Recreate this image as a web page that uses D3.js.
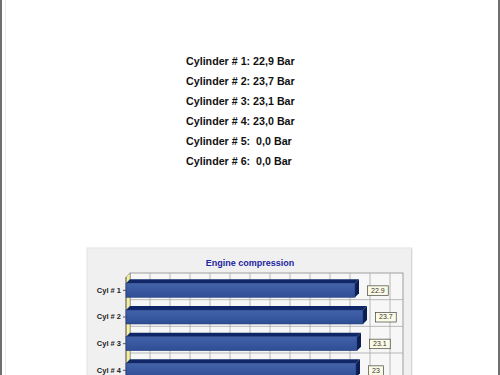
<!DOCTYPE html>
<html>
<head>
<meta charset="utf-8">
<script src="https://cdn.jsdelivr.net/npm/d3@7"></script>
<style>
  html, body { margin: 0; padding: 0; background: #fff; }
  svg { display: block; }
</style>
</head>
<body>
<svg id="page" width="500" height="375"></svg>
<script>
const cylinders = ["Cyl # 1", "Cyl # 2", "Cyl # 3", "Cyl # 4", "Cyl # 5", "Cyl # 6"];
const pressures = [22.9, 23.7, 23.1, 23.0, 0.0, 0.0];
const gridTicks = [0, 2, 4, 6, 8, 10, 12, 14, 16, 18, 20, 22, 24, 26];
const chartTitle = "Engine compression";

const svg = d3.select("#page");

// page frame
svg.append("rect").attr("x", 0).attr("y", 0).attr("width", 2).attr("height", 375).attr("fill", "#6f6f6f");
svg.append("rect").attr("x", 5).attr("y", 0).attr("width", 1).attr("height", 375).attr("fill", "#f0f0f0");
svg.append("rect").attr("x", 498).attr("y", 0).attr("width", 2).attr("height", 375).attr("fill", "#6f6f6f");

// summary text
const fmt = v => d3.format(".1f")(v).replace(".", ",").padStart(4, " ");
svg.append("g")
  .selectAll("text")
  .data(pressures)
  .join("text")
  .attr("x", 186)
  .attr("y", (d, i) => 65 + i * 20)
  .attr("font-family", "Liberation Sans, Arial, sans-serif")
  .attr("font-weight", "bold")
  .attr("font-size", 10.7)
  .attr("fill", "#111")
  .style("white-space", "pre")
  .text((d, i) => `Cylinder # ${i + 1}: ${fmt(d)} Bar`);

// chart panel
const panel = svg.append("g");
panel.append("rect")
  .attr("x", 87).attr("y", 248).attr("width", 325).attr("height", 200)
  .attr("fill", "#f0f0f0").attr("stroke", "#e4e4e4");
panel.append("line")
  .attr("x1", 411.5).attr("x2", 411.5).attr("y1", 249).attr("y2", 448)
  .attr("stroke", "#d6d6d6");

panel.append("text")
  .attr("x", 250).attr("y", 266)
  .attr("text-anchor", "middle")
  .attr("font-family", "Liberation Sans, Arial, sans-serif")
  .attr("font-weight", "bold")
  .attr("font-size", 9)
  .attr("fill", "#2424a0")
  .text(chartTitle);

// 3d plot geometry
const fx = 126, fy = 277, depth = 4;
const x = d3.scaleLinear().domain([0, 27.3]).range([0, 273]);
const y = d3.scaleBand().domain(cylinders).range([0, 160]).paddingInner(0).paddingOuter(0);
const barH = 14;
const plotW = x.range()[1], plotH = y.range()[1];

const plot = panel.append("g").attr("transform", `translate(${fx},${fy})`);

// back wall
plot.append("rect")
  .attr("x", depth).attr("y", -depth)
  .attr("width", plotW).attr("height", plotH)
  .attr("fill", "#f7f7f7").attr("stroke", "#8a8a8a").attr("stroke-width", 0.8);

plot.append("g")
  .selectAll("line")
  .data(gridTicks)
  .join("line")
  .attr("x1", d => depth + x(d)).attr("x2", d => depth + x(d))
  .attr("y1", -depth).attr("y2", plotH - depth)
  .attr("stroke", "#a8a8a8").attr("stroke-width", 0.8);

plot.append("g")
  .selectAll("line")
  .data(cylinders)
  .join("line")
  .attr("x1", depth).attr("x2", depth + plotW)
  .attr("y1", d => y(d) + y.bandwidth() - depth).attr("y2", d => y(d) + y.bandwidth() - depth)
  .attr("stroke", "#a8a8a8").attr("stroke-width", 0.8);

// left wall
plot.append("path")
  .attr("d", `M0,0 L${depth},${-depth} L${depth},${plotH - depth} L0,${plotH} Z`)
  .attr("fill", "#f6f09a").attr("stroke", "#8a8a8a").attr("stroke-width", 0.6);

// axis
plot.append("line")
  .attr("x1", 0).attr("x2", 0).attr("y1", 0).attr("y2", plotH)
  .attr("stroke", "#666");

const yAxis = d3.axisLeft(y).tickSize(3).tickPadding(2);
plot.append("g").call(yAxis)
  .call(g => g.select(".domain").remove())
  .call(g => g.selectAll(".tick line").attr("stroke", "#555"))
  .call(g => g.selectAll("text")
    .attr("font-family", "Liberation Sans, Arial, sans-serif")
    .attr("font-weight", "bold")
    .attr("font-size", 7.5)
    .attr("fill", "#222"));

// bars
const defs = svg.append("defs");
const grad = defs.append("linearGradient").attr("id", "barFront")
  .attr("x1", 0).attr("y1", 0).attr("x2", 0).attr("y2", 1);
grad.append("stop").attr("offset", "0%").attr("stop-color", "#4262aa");
grad.append("stop").attr("offset", "100%").attr("stop-color", "#2f4e94");

const bars = plot.append("g")
  .selectAll("g")
  .data(pressures)
  .join("g")
  .attr("transform", (d, i) => `translate(0,${y(cylinders[i]) + (y.bandwidth() - barH) / 2})`);

bars.append("path")
  .attr("d", d => `M0,0 L${depth},${-depth} L${x(d) + depth},${-depth} L${x(d)},0 Z`)
  .attr("fill", "#0f2766");
bars.append("path")
  .attr("d", d => `M${x(d)},0 L${x(d) + depth},${-depth} L${x(d) + depth},${barH - depth} L${x(d)},${barH} Z`)
  .attr("fill", "#0b1d52");
bars.append("rect")
  .attr("x", 0).attr("y", 0)
  .attr("width", d => x(d)).attr("height", barH)
  .attr("fill", "url(#barFront)")
  .attr("stroke", "#1c3577").attr("stroke-width", 0.5);

// value labels
const labels = bars.append("g")
  .attr("transform", d => `translate(${x(d) + depth + 12},${barH / 2})`);
labels.append("text")
  .attr("x", 0).attr("y", 0)
  .attr("dy", "0.35em")
  .attr("font-family", "Liberation Sans, Arial, sans-serif")
  .attr("font-size", 7)
  .attr("fill", "#333")
  .text(d => String(d));
labels.each(function() {
  const g = d3.select(this);
  const bb = g.select("text").node().getBBox();
  g.insert("rect", "text")
    .attr("x", bb.x - 3.5).attr("y", -4.5)
    .attr("width", bb.width + 7).attr("height", 9.5)
    .attr("fill", "#fcfce6").attr("stroke", "#444").attr("stroke-width", 0.7);
});
</script>
</body>
</html>
